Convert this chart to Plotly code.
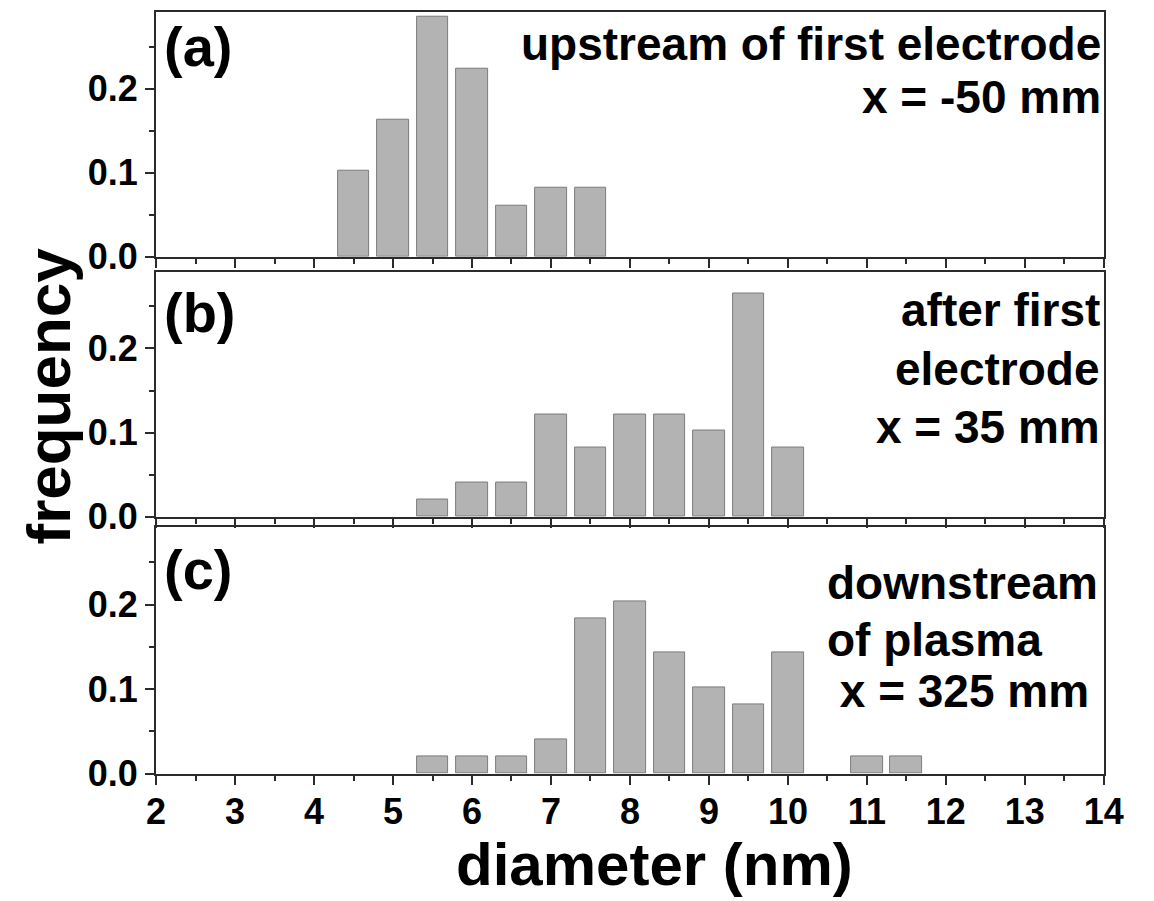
import plotly.graph_objects as go

# ---------------- data ----------------
x_a = [4.5, 5.0, 5.5, 6.0, 6.5, 7.0, 7.5]
f_a = [0.102, 0.163, 0.286, 0.224, 0.061, 0.082, 0.082]

x_b = [5.5, 6.0, 6.5, 7.0, 7.5, 8.0, 8.5, 9.0, 9.5, 10.0]
f_b = [0.020, 0.041, 0.041, 0.122, 0.082, 0.122, 0.122, 0.102, 0.265, 0.082]

x_c = [5.5, 6.0, 6.5, 7.0, 7.5, 8.0, 8.5, 9.0, 9.5, 10.0, 11.0, 11.5]
f_c = [0.020, 0.020, 0.020, 0.041, 0.184, 0.204, 0.143, 0.102, 0.082, 0.143, 0.020, 0.020]

x_ticks = list(range(2, 15))
y_ticks = [0.0, 0.1, 0.2]

panel_labels = ["(a)", "(b)", "(c)"]
text_a = ["upstream of first electrode", "x = -50 mm"]
text_b = ["after first", "electrode", "x = 35 mm"]
text_c = ["downstream", "of plasma", "\u00a0x = 325 mm"]
x_title = "diameter (nm)"
y_title = "frequency"

# ---------------- layout helpers ----------------
W, H = 1154, 901
FONT = "Liberation Sans, Arial, sans-serif"
def px(x):
    return x / W
def py(y):
    return 1 - y / H

x_dom = [px(150), px(1123)]
y_doms = [[py(263), py(12)], [py(529), py(278)], [py(792), py(540)]]

BAR_FILL = "#b3b3b3"
BAR_LINE = "#7c7c7c"
AX_COL = "#2b2b2b"
TICK_SZ = 36

fig = go.Figure()
for i, (xs, fs) in enumerate([(x_a, f_a), (x_b, f_b), (x_c, f_c)]):
    fig.add_trace(go.Bar(
        x=xs, y=fs, width=0.4,
        marker=dict(color=BAR_FILL, line=dict(color=BAR_LINE, width=1)),
        xaxis="x" if i == 0 else f"x{i+1}",
        yaxis="y" if i == 0 else f"y{i+1}",
        showlegend=False,
    ))

layout = dict(
    width=W, height=H,
    margin=dict(l=0, r=0, t=0, b=0),
    paper_bgcolor="white", plot_bgcolor="white",
    font=dict(family=FONT, color="black"),
    bargap=0,
)
for i in range(3):
    xn = "xaxis" if i == 0 else f"xaxis{i+1}"
    yn = "yaxis" if i == 0 else f"yaxis{i+1}"
    ya = "y" if i == 0 else f"y{i+1}"
    xa = "x" if i == 0 else f"x{i+1}"
    layout[xn] = dict(
        domain=x_dom, anchor=ya, range=[2, 14],
        tickvals=x_ticks, ticktext=[str(v) for v in x_ticks],
        showticklabels=(i == 2),
        ticklabelstandoff=-4,
        ticks="outside", ticklen=9, tickwidth=1.5, tickcolor=AX_COL,
        minor=dict(dtick=0.5, tick0=2, ticks="outside", ticklen=5, tickwidth=1.5, tickcolor=AX_COL),
        showline=True, mirror=True, linecolor=AX_COL, linewidth=2,
        showgrid=False, zeroline=False,
        tickfont=dict(family=FONT, size=TICK_SZ, color="black", weight="bold"),
        fixedrange=True,
    )
    layout[yn] = dict(
        domain=y_doms[i], anchor=xa, range=[0, 0.2915],
        tickvals=y_ticks, ticktext=[f"{v:.1f}" for v in y_ticks],
        ticks="outside", ticklen=9, tickwidth=1.5, tickcolor=AX_COL,
        minor=dict(dtick=0.05, tick0=0, ticks="outside", ticklen=5, tickwidth=1.5, tickcolor=AX_COL),
        showline=True, mirror=True, linecolor=AX_COL, linewidth=2,
        showgrid=False, zeroline=False,
        tickfont=dict(family=FONT, size=TICK_SZ, color="black", weight="bold"),
        fixedrange=True,
    )
fig.update_layout(**layout)

ann = []
def add_text(text, x, y, size, xanchor="left", yanchor="middle", angle=0):
    ann.append(dict(
        text=text, x=px(x), y=py(y), xref="paper", yref="paper",
        xanchor=xanchor, yanchor=yanchor, showarrow=False, textangle=angle,
        font=dict(family=FONT, size=size, color="black", weight="bold"),
    ))

# panel labels (vertical centre of the parentheses)
for lab, yc in zip(panel_labels, [48, 320, 583]):
    add_text(lab, 156, yc, 56)

ASZ = 46
def base_to_mid(b):
    return b - 0.33 * ASZ

for t, b in zip(text_a, [60, 115]):
    add_text(t, 1122, base_to_mid(b), ASZ, xanchor="right")
for t, b in zip(text_b, [333, 393, 452]):
    add_text(t, 1121, base_to_mid(b), ASZ, xanchor="right")
for t, b in zip(text_c, [612, 670, 723]):
    add_text(t, 837, base_to_mid(b), ASZ, xanchor="left")

add_text(x_title, 662, 885, 60, xanchor="center")
add_text(y_title, 40, 405, 62, xanchor="center", angle=-90)

fig.update_layout(annotations=ann)
fig.write_html("out.html")
